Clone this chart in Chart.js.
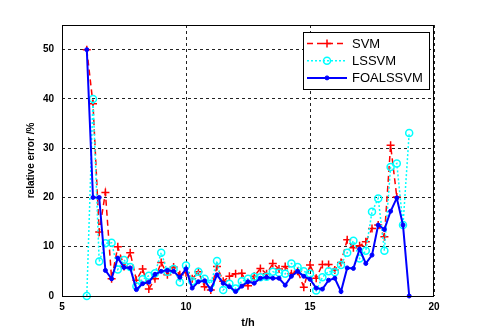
<!DOCTYPE html>
<html>
<head>
<meta charset="utf-8">
<script src="https://cdn.jsdelivr.net/npm/chart.js@4"></script>
<style>
  html, body { margin: 0; padding: 0; background: #fff; }
  canvas { display: block; }
</style>
</head>
<body>
<canvas id="errChart" width="480" height="334"></canvas>
<script>
// time of day, hours
const hours = [6, 6.25, 6.5, 6.75, 7, 7.25, 7.5, 7.75, 8, 8.25, 8.5, 8.75,
  9, 9.25, 9.5, 9.75, 10, 10.25, 10.5, 10.75, 11, 11.25, 11.5, 11.75,
  12, 12.25, 12.5, 12.75, 13, 13.25, 13.5, 13.75, 14, 14.25, 14.5, 14.75,
  15, 15.25, 15.5, 15.75, 16, 16.25, 16.5, 16.75, 17, 17.25, 17.5, 17.75,
  18, 18.25, 18.5, 18.75, 19];

// relative error, %
const svm = [50, 39, 13, 21, 3.5, 10, 6, 8.8, 3.2, 5.5, 1.4, 3.5,
  6.8, 4.3, 5.9, 4.3, 4.7, 3.5, 4.9, 1.9, 1.2, 6.0, 3.0, 4.0,
  4.5, 4.6, 2.1, 4.0, 5.6, 4.5, 6.6, 5.5, 6.0, 4.5, 5.0, 1.8,
  6.3, 3.6, 6.4, 6.4, 5.3, 6.8, 11.4, 9.8, 10.2, 11, 13.7, 14.4,
  12, 30.6, 20.1, null, null];
const lssvm = [0, 40, 7.0, 10.7, 10.8, 5.4, 7.3, 5.9, 2.0, 3.4, 4.1, 4.6,
  8.8, 4.9, 5.5, 2.8, 6.2, 3.0, 4.9, 3.5, 2.5, 7.1, 1.2, 2.5,
  1.5, 3.0, 3.5, 3.9, 3.8, 3.9, 4.9, 4.7, 4.5, 6.6, 5.9, 5.0,
  4.5, 1.1, 3.8, 5.0, 4.8, 6.3, 8.8, 11.2, 7.6, 9.2, 17.1, 19.8,
  9.2, 26.2, 26.9, 14.4, 33.1];
const foalssvm = [50, 20, 20, 5.2, 3.5, 7.7, 5.8, 5.7, 1.3, 2.5, 2.8, 4.4,
  5.0, 5.2, 5.0, 3.8, 5.5, 1.6, 2.9, 3.1, 1.3, 4.3, 2.6, 1.9,
  0.9, 2.0, 2.9, 2.6, 3.6, 3.8, 3.6, 3.6, 2.2, 4.0, 5.0, 4.0,
  3.4, 1.6, 1.4, 3.2, 3.6, 0.9, 5.7, 5.6, 9.5, 6.6, 8.3, 14.4,
  13.5, 17.2, 19.9, 14.4, 0];

const xTicks = [5, 10, 15, 20];
const yTicks = [0, 10, 20, 30, 40, 50];

const pts = arr => hours.map((t, i) => ({ x: t, y: arr[i] }));

// black frame round the axes, like matlab's box on
const boxPlugin = {
  id: 'box',
  afterDatasetsDraw(chart) {
    const a = chart.chartArea, ctx = chart.ctx;
    ctx.save();
    ctx.strokeStyle = '#000';
    ctx.lineWidth = 1;
    ctx.strokeRect(a.left + 0.5, a.top + 0.5, a.right - a.left - 1, a.bottom - a.top);
    ctx.restore();
  }
};

function drawMarker(ctx, ds, x, y) {
  const r = ds.pointRadius;
  ctx.save();
  ctx.strokeStyle = ds.borderColor;
  ctx.fillStyle = ds.pointBackgroundColor;
  ctx.lineWidth = ds.pointBorderWidth;
  ctx.setLineDash([]);
  ctx.beginPath();
  if (ds.pointStyle === 'cross') {
    ctx.moveTo(x - r, y); ctx.lineTo(x + r, y);
    ctx.moveTo(x, y - r); ctx.lineTo(x, y + r);
    ctx.stroke();
  } else {
    ctx.arc(x, y, r, 0, Math.PI * 2);
    ctx.fill();
    ctx.stroke();
  }
  ctx.restore();
}

// legend box in the upper right of the axes
const legendPlugin = {
  id: 'boxLegend',
  afterDraw(chart) {
    const a = chart.chartArea, ctx = chart.ctx;
    const bx = a.right - 131, by = a.top + 7, bw = 126, bh = 57;
    ctx.save();
    ctx.fillStyle = '#fff';
    ctx.fillRect(bx, by, bw, bh);
    ctx.strokeStyle = '#000';
    ctx.lineWidth = 1;
    ctx.strokeRect(bx + 0.5, by + 0.5, bw, bh);
    ctx.font = "13px 'Liberation Sans', Arial, sans-serif";
    ctx.textBaseline = 'middle';
    chart.data.datasets.forEach((ds, i) => {
      const y = by + 11.5 + i * 17.2;
      ctx.save();
      ctx.strokeStyle = ds.borderColor;
      ctx.lineWidth = ds.borderWidth;
      ctx.setLineDash(ds.borderDash || []);
      ctx.beginPath();
      ctx.moveTo(bx + 4, y);
      ctx.lineTo(bx + 44, y);
      ctx.stroke();
      ctx.restore();
      drawMarker(ctx, ds, bx + 24, y);
      ctx.fillStyle = '#000';
      ctx.fillText(ds.label, bx + 49, y + 0.5);
    });
    ctx.restore();
  }
};

const tickFont = { family: "'Liberation Sans', Arial, sans-serif", size: 10, weight: 'bold' };

new Chart(document.getElementById('errChart'), {
  type: 'line',
  data: {
    datasets: [
      {
        label: 'SVM',
        data: pts(svm),
        borderColor: '#ff0000',
        borderWidth: 1.5,
        borderDash: [6, 4],
        pointStyle: 'cross',
        pointRadius: 4,
        pointBorderWidth: 1.5,
        pointBackgroundColor: '#ff0000',
        order: 3,
        clip: false
      },
      {
        label: 'LSSVM',
        data: pts(lssvm),
        borderColor: '#00ffff',
        borderWidth: 1.5,
        borderDash: [2, 2],
        pointStyle: 'circle',
        pointRadius: 3.5,
        pointBorderWidth: 1.5,
        pointBackgroundColor: 'rgba(255,255,255,0)',
        order: 2,
        clip: false
      },
      {
        label: 'FOALSSVM',
        data: pts(foalssvm),
        borderColor: '#0000ff',
        borderWidth: 2,
        pointStyle: 'circle',
        pointRadius: 2,
        pointBorderWidth: 1,
        pointBackgroundColor: '#0000ff',
        order: 1,
        clip: false
      }
    ]
  },
  options: {
    responsive: false,
    animation: false,
    spanGaps: false,
    layout: { padding: { left: 0, right: 46, top: 25, bottom: 0 } },
    plugins: { legend: { display: false }, tooltip: { enabled: false } },
    elements: { line: { tension: 0 } },
    scales: {
      x: {
        type: 'linear',
        min: 5,
        max: 20,
        afterBuildTicks: s => { s.ticks = xTicks.map(v => ({ value: v })); },
        afterFit: s => { s.height = 38; },
        grid: { color: '#222', lineWidth: 1, drawTicks: false },
        border: { display: false, dash: [3, 3] },
        ticks: { color: '#000', font: tickFont, padding: 5, maxRotation: 0 },
        title: {
          display: true,
          text: 't/h',
          color: '#000',
          font: { family: "'Liberation Sans', Arial, sans-serif", size: 11, weight: 'bold' },
          padding: { top: 4, bottom: 4 }
        }
      },
      y: {
        min: 0,
        max: 55,
        afterBuildTicks: s => { s.ticks = yTicks.map(v => ({ value: v })); },
        afterFit: s => { s.width = 62; },
        grid: { color: '#222', lineWidth: 1, drawTicks: false },
        border: { display: false, dash: [3, 3] },
        ticks: { color: '#000', font: tickFont, padding: 8 },
        title: {
          display: true,
          text: 'relative error /%',
          color: '#000',
          font: { family: "'Liberation Sans Narrow', 'Liberation Sans', Arial, sans-serif", size: 10, weight: 'bold' },
          padding: { top: 25, bottom: 25 }
        }
      }
    }
  },
  plugins: [boxPlugin, legendPlugin]
});
</script>
</body>
</html>
